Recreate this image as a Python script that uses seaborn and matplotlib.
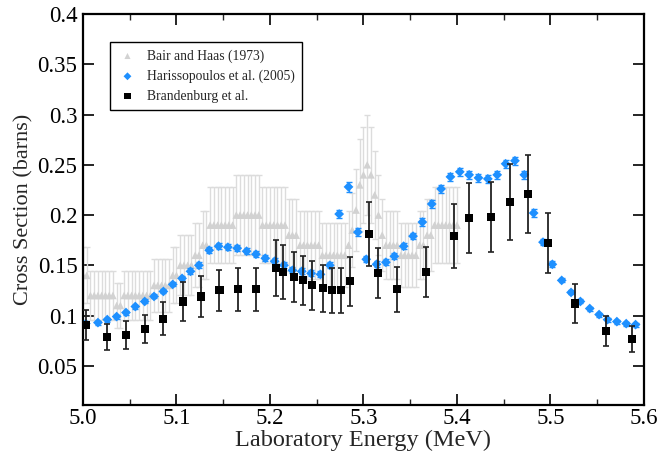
import matplotlib
matplotlib.use("Agg")
import matplotlib.pyplot as plt
import seaborn as sns
import pandas as pd

# Bair and Haas (1973)
bair_energy = [5.000, 5.004, 5.008, 5.012, 5.016, 5.020, 5.024, 5.028, 5.032, 5.036,
               5.040, 5.044, 5.048, 5.052, 5.056, 5.060, 5.064, 5.068, 5.072, 5.076,
               5.080, 5.084, 5.088, 5.092, 5.096, 5.100, 5.104, 5.108, 5.112, 5.116,
               5.120, 5.124, 5.128, 5.132, 5.136, 5.140, 5.144, 5.148, 5.152, 5.156,
               5.160, 5.164, 5.168, 5.172, 5.176, 5.180, 5.184, 5.188, 5.192, 5.196,
               5.200, 5.204, 5.208, 5.212, 5.216, 5.220, 5.224, 5.228, 5.232, 5.236,
               5.240, 5.244, 5.248, 5.252, 5.256, 5.260, 5.264, 5.268, 5.272, 5.276,
               5.280, 5.284, 5.288, 5.292, 5.296, 5.300, 5.304, 5.308, 5.312, 5.316,
               5.320, 5.324, 5.328, 5.332, 5.336, 5.340, 5.344, 5.348, 5.352, 5.356,
               5.360, 5.364, 5.368, 5.372, 5.376, 5.380, 5.384, 5.388, 5.392, 5.396,
               5.400]
bair_xs = [0.140, 0.140, 0.120, 0.120, 0.120, 0.120, 0.120, 0.120, 0.120, 0.110,
           0.110, 0.120, 0.120, 0.120, 0.120, 0.120, 0.120, 0.120, 0.120, 0.130,
           0.130, 0.130, 0.130, 0.130, 0.140, 0.140, 0.150, 0.150, 0.150, 0.150,
           0.160, 0.160, 0.170, 0.170, 0.190, 0.190, 0.190, 0.190, 0.190, 0.190,
           0.190, 0.200, 0.200, 0.200, 0.200, 0.200, 0.200, 0.200, 0.190, 0.190,
           0.190, 0.190, 0.190, 0.190, 0.190, 0.180, 0.180, 0.180, 0.170, 0.170,
           0.170, 0.170, 0.170, 0.170, 0.160, 0.160, 0.160, 0.160, 0.160, 0.160,
           0.160, 0.170, 0.185, 0.205, 0.230, 0.240, 0.250, 0.240, 0.220, 0.200,
           0.180, 0.170, 0.170, 0.170, 0.170, 0.160, 0.160, 0.160, 0.160, 0.160,
           0.170, 0.170, 0.180, 0.180, 0.190, 0.190, 0.190, 0.190, 0.190, 0.190,
           0.190]
bair_err = [0.028, 0.028, 0.024, 0.024, 0.024, 0.024, 0.024, 0.024, 0.024, 0.022,
            0.022, 0.024, 0.024, 0.024, 0.024, 0.024, 0.024, 0.024, 0.024, 0.026,
            0.026, 0.026, 0.026, 0.026, 0.028, 0.028, 0.030, 0.030, 0.030, 0.030,
            0.032, 0.032, 0.034, 0.034, 0.038, 0.038, 0.038, 0.038, 0.038, 0.038,
            0.038, 0.040, 0.040, 0.040, 0.040, 0.040, 0.040, 0.040, 0.038, 0.038,
            0.038, 0.038, 0.038, 0.038, 0.038, 0.036, 0.036, 0.036, 0.034, 0.034,
            0.034, 0.034, 0.034, 0.034, 0.032, 0.032, 0.032, 0.032, 0.032, 0.032,
            0.032, 0.034, 0.037, 0.041, 0.046, 0.048, 0.050, 0.048, 0.044, 0.040,
            0.036, 0.034, 0.034, 0.034, 0.034, 0.032, 0.032, 0.032, 0.032, 0.032,
            0.034, 0.034, 0.036, 0.036, 0.038, 0.038, 0.038, 0.038, 0.038, 0.038,
            0.038]

# Harissopoulos et al. (2005)
hari_energy = [5.003, 5.016, 5.026, 5.036, 5.046, 5.056, 5.066, 5.076, 5.086, 5.096,
               5.106, 5.115, 5.124, 5.135, 5.145, 5.155, 5.165, 5.175, 5.185, 5.195,
               5.205, 5.215, 5.224, 5.234, 5.244, 5.254, 5.264, 5.274, 5.284, 5.294,
               5.303, 5.314, 5.324, 5.333, 5.343, 5.353, 5.363, 5.373, 5.383, 5.393,
               5.403, 5.413, 5.423, 5.433, 5.443, 5.452, 5.462, 5.472, 5.482, 5.492,
               5.502, 5.512, 5.522, 5.532, 5.542, 5.552, 5.561, 5.571, 5.581, 5.591]
hari_xs = [0.092, 0.093, 0.096, 0.099, 0.103, 0.109, 0.114, 0.119, 0.124, 0.131,
           0.137, 0.144, 0.150, 0.165, 0.169, 0.168, 0.167, 0.164, 0.161, 0.157,
           0.154, 0.150, 0.145, 0.144, 0.142, 0.141, 0.150, 0.201, 0.228, 0.183,
           0.156, 0.151, 0.153, 0.159, 0.169, 0.179, 0.193, 0.211, 0.226, 0.238,
           0.243, 0.240, 0.237, 0.236, 0.240, 0.251, 0.254, 0.240, 0.202, 0.173,
           0.151, 0.135, 0.123, 0.114, 0.107, 0.101, 0.096, 0.094, 0.092, 0.091]
hari_err = [0.002, 0.002, 0.002, 0.002, 0.002, 0.002, 0.002, 0.002, 0.002, 0.002,
            0.002, 0.003, 0.003, 0.003, 0.003, 0.003, 0.003, 0.003, 0.003, 0.003,
            0.003, 0.003, 0.003, 0.003, 0.003, 0.003, 0.003, 0.004, 0.005, 0.004,
            0.003, 0.003, 0.003, 0.003, 0.003, 0.003, 0.004, 0.004, 0.004, 0.004,
            0.004, 0.004, 0.004, 0.004, 0.004, 0.004, 0.004, 0.004, 0.004, 0.003,
            0.003, 0.002, 0.002, 0.002, 0.002, 0.002, 0.002, 0.002, 0.002, 0.002]

# Brandenburg et al.
bran_energy = [5.003, 5.026, 5.046, 5.066, 5.086, 5.107, 5.126, 5.146, 5.166, 5.185,
               5.206, 5.214, 5.226, 5.235, 5.245, 5.257, 5.266, 5.276, 5.286, 5.306,
               5.316, 5.336, 5.367, 5.397, 5.413, 5.436, 5.457, 5.476, 5.497, 5.526,
               5.559, 5.587]
bran_xs = [0.091, 0.079, 0.081, 0.087, 0.097, 0.114, 0.119, 0.125, 0.126, 0.126,
           0.147, 0.143, 0.138, 0.135, 0.130, 0.127, 0.125, 0.125, 0.134, 0.181,
           0.142, 0.126, 0.143, 0.179, 0.197, 0.198, 0.213, 0.221, 0.172, 0.112,
           0.085, 0.077]
bran_err = [0.015, 0.013, 0.014, 0.014, 0.016, 0.019, 0.020, 0.020, 0.021, 0.021,
            0.028, 0.027, 0.025, 0.024, 0.024, 0.023, 0.022, 0.022, 0.024, 0.032,
            0.025, 0.022, 0.025, 0.032, 0.035, 0.035, 0.038, 0.039, 0.030, 0.019,
            0.015, 0.013]

x_ticks = [5.0, 5.1, 5.2, 5.3, 5.4, 5.5, 5.6]
x_tick_labels = ["5.0", "5.1", "5.2", "5.3", "5.4", "5.5", "5.6"]
y_ticks = [0.05, 0.1, 0.15, 0.2, 0.25, 0.3, 0.35, 0.4]
y_tick_labels = ["0.05", "0.1", "0.15", "0.2", "0.25", "0.3", "0.35", "0.4"]

sns.set_style("ticks")
plt.rcParams["font.family"] = ["Liberation Serif", "DejaVu Serif"]

bair = pd.DataFrame({"E": bair_energy, "xs": bair_xs, "err": bair_err})
hari = pd.DataFrame({"E": hari_energy, "xs": hari_xs, "err": hari_err})
bran = pd.DataFrame({"E": bran_energy, "xs": bran_xs, "err": bran_err})

fig = plt.figure(figsize=(6.59, 4.59), dpi=100)
ax = fig.add_axes([0.1259, 0.1176, 0.8513, 0.8519])

gray = "#d2d2d2"
blue = "#1e90ff"

# Bair and Haas: light grey triangles with wide uncertainty bars
ax.errorbar(bair["E"], bair["xs"], yerr=bair["err"], fmt="none",
            ecolor="#dcdcdc", elinewidth=1.0, capsize=2.2, capthick=1.0, zorder=1)
sns.scatterplot(data=bair, x="E", y="xs", marker="^", s=30, color=gray,
                edgecolor="none", linewidth=0, ax=ax, zorder=2,
                label="Bair and Haas (1973)")

# Harissopoulos: blue diamonds
ax.errorbar(hari["E"], hari["xs"], yerr=hari["err"], fmt="none",
            ecolor=blue, elinewidth=1.0, capsize=2.2, capthick=1.0, zorder=3)
sns.scatterplot(data=hari, x="E", y="xs", marker="D", s=25, color=blue,
                edgecolor="none", linewidth=0, ax=ax, zorder=4,
                label="Harissopoulos et al. (2005)")

# Brandenburg: black squares on top
ax.errorbar(bran["E"], bran["xs"], yerr=bran["err"], fmt="none",
            ecolor="#222222", elinewidth=1.3, capsize=2.4, capthick=1.2, zorder=5)
sns.scatterplot(data=bran, x="E", y="xs", marker="s", s=34, color="black",
                edgecolor="none", linewidth=0, ax=ax, zorder=6,
                label="Brandenburg et al.")

ax.set_xlim(5.0, 5.6)
ax.set_ylim(0.011, 0.4)
ax.set_xticks(x_ticks)
ax.set_xticklabels(x_tick_labels)
ax.set_xticks([5.05, 5.15, 5.25, 5.35, 5.45, 5.55], minor=True)
ax.set_yticks(y_ticks)
ax.set_yticklabels(y_tick_labels)

ax.tick_params(axis="both", which="major", direction="in", length=8, width=1.2,
               labelsize=16.5, top=True, right=True, pad=4, colors="black")
ax.tick_params(axis="x", which="major", pad=2)
ax.tick_params(axis="x", which="minor", direction="in", length=4, width=1.0,
               top=True)
for sp in ax.spines.values():
    sp.set_linewidth(1.6)
    sp.set_color("black")

ax.set_xlabel("Laboratory Energy (MeV)", fontsize=17.5, labelpad=1)
ax.set_ylabel("Cross Section (barns)", fontsize=16, labelpad=3)

leg = ax.legend(loc="upper left", bbox_to_anchor=(0.049, 0.929), borderaxespad=0,
                fontsize=9.8, frameon=True, fancybox=False, framealpha=1,
                edgecolor="black", handletextpad=0.7, borderpad=0.55,
                labelspacing=0.5, markerscale=0.8, handlelength=1.4)
leg.get_frame().set_linewidth(1.0)

fig.savefig("out.png", dpi=100)
